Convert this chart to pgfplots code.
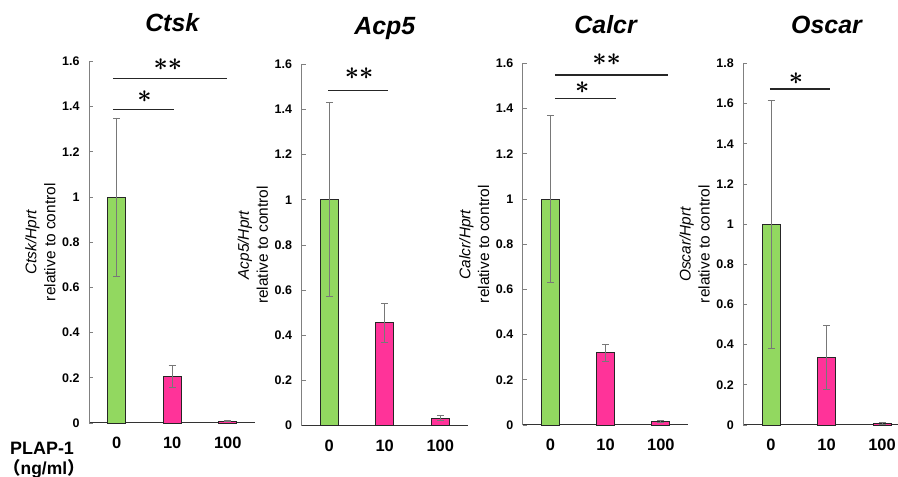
\documentclass[border=0pt]{standalone}
\usepackage{pgfplots}
\pgfplotsset{compat=1.18}
\usepackage{fontspec}
\setmainfont{Liberation Sans}
\newfontfamily\cjk{Noto Sans CJK JP}
\definecolor{bargreen}{RGB}{146,216,96}
\definecolor{barpink}{RGB}{255,51,153}
\definecolor{errgray}{RGB}{120,120,120}
\definecolor{sigline}{RGB}{38,38,38}
\tikzset{sig/.style={draw=sigline, line width=1.2bp}, star/.style={font=\boldmath\fontsize{37}{37}\selectfont}}
\pgfplotsset{
  panel/.style={
    scale only axis, width=166.5bp, height=361.5bp,
    xmin=-0.5, xmax=2.5, ymin=0,
    axis x line*=bottom, axis y line*=left,
    x axis line style={black!80, line width=1bp},
    y axis line style={black!50, line width=0.8bp},
    xtick={0,1,2}, xticklabels={0,10,100},
    xtick style={draw=none},
    ytick style={black!50, line width=0.8bp},
    tick align=inside, major tick length=4bp,
    /pgf/number format/assume math mode=true,
    yticklabel style={font=\bfseries\fontsize{12.5}{14}\selectfont, xshift=-6bp},
    xticklabel style={font=\bfseries\fontsize{16.5}{18}\selectfont, yshift=-11bp},
    ylabel style={at={(axis description cs:-0.18,0.5)}, anchor=south, align=center, font=\fontsize{15.5}{19}\selectfont},
    title style={at={(axis description cs:0.5,1)}, anchor=base, yshift=24bp, font=\bfseries\itshape\fontsize{25}{28}\selectfont},
    clip=false,
    error bars/y dir=both, error bars/y explicit,
    error bars/error bar style={errgray, line width=0.9bp},
    error bars/error mark options={errgray, line width=0.9bp, mark size=3.5bp, rotate=90},
  },
  gbar/.style={ybar, bar width=18bp, bar shift=0pt, fill=bargreen, draw=black!85, line width=0.9bp},
  pbar/.style={ybar, bar width=18bp, bar shift=0pt, fill=barpink, draw=black!85, line width=0.9bp},
}
\begin{document}
\begin{tikzpicture}
\useasboundingbox (0,0) rectangle (898bp,477bp);
% Panel 1: Ctsk
\begin{axis}[panel, at={(89bp,54bp)}, anchor=south west, ymax=1.6, ytick={0,0.2,...,1.6},
  title={Ctsk}, ylabel={\textit{Ctsk/Hprt}\\relative to control}]
\addplot[gbar] coordinates {(0,1) +- (0,0.35)};
\addplot[pbar] coordinates {(1,0.205) +- (0,0.048) (2,0.008) +- (0,0.002)};
\draw[sig] (axis cs:-0.07,1.387) -- (axis cs:1.03,1.387);
\draw[sig] (axis cs:-0.07,1.525) -- (axis cs:1.98,1.525);
\node[star] at (axis cs:0.5,1.445) {$\ast$};
\node[star] at (axis cs:0.92,1.587) {$\ast\ast$};
\end{axis}
% Panel 2: Acp5
\begin{axis}[panel, at={(301.5bp,51.3bp)}, anchor=south west, ymax=1.6, ytick={0,0.2,...,1.6},
  title={Acp5}, ylabel={\textit{Acp5/Hprt}\\relative to control}]
\addplot[gbar] coordinates {(0,1) +- (0,0.43)};
\addplot[pbar] coordinates {(1,0.455) +- (0,0.085) (2,0.033) +- (0,0.011)};
\draw[sig] (axis cs:-0.02,1.482) -- (axis cs:1.06,1.482);
\node[star] at (axis cs:0.54,1.556) {$\ast\ast$};
\end{axis}
% Panel 3: Calcr
\begin{axis}[panel, at={(522.7bp,52bp)}, anchor=south west, width=165.75bp, ymax=1.6, ytick={0,0.2,...,1.6},
  title={Calcr}, ylabel={\textit{Calcr/Hprt}\\relative to control}]
\addplot[gbar] coordinates {(0,1) +- (0,0.37)};
\addplot[pbar] coordinates {(1,0.32) +- (0,0.037) (2,0.015) +- (0,0.005)};
\draw[sig] (axis cs:0.08,1.444) -- (axis cs:1.18,1.444);
\draw[sig] (axis cs:0.08,1.549) -- (axis cs:2.13,1.549);
\node[star] at (axis cs:0.58,1.491) {$\ast$};
\node[star] at (axis cs:1.02,1.615) {$\ast\ast$};
\end{axis}
% Panel 4: Oscar
\begin{axis}[panel, at={(743.3bp,52bp)}, anchor=south west, ymax=1.8, ytick={0,0.2,...,1.8},
  title={Oscar}, ylabel={\textit{Oscar/Hprt}\\relative to control}]
\addplot[gbar] coordinates {(0,1) +- (0,0.617)};
\addplot[pbar] coordinates {(1,0.337) +- (0,0.16) (2,0.008) +- (0,0.004)};
\draw[sig] (axis cs:-0.02,1.673) -- (axis cs:1.07,1.673);
\node[star] at (axis cs:0.45,1.725) {$\ast$};
\end{axis}
\node[anchor=base west, font=\bfseries\fontsize{18}{20}\selectfont, inner sep=0] at (10bp,23bp) {PLAP-1};
\node[anchor=base west, font=\bfseries\fontsize{17.5}{20}\selectfont, inner sep=0] at (3bp,3bp) {{\cjk （}ng/ml{\cjk ）}};
\end{tikzpicture}
\end{document}
